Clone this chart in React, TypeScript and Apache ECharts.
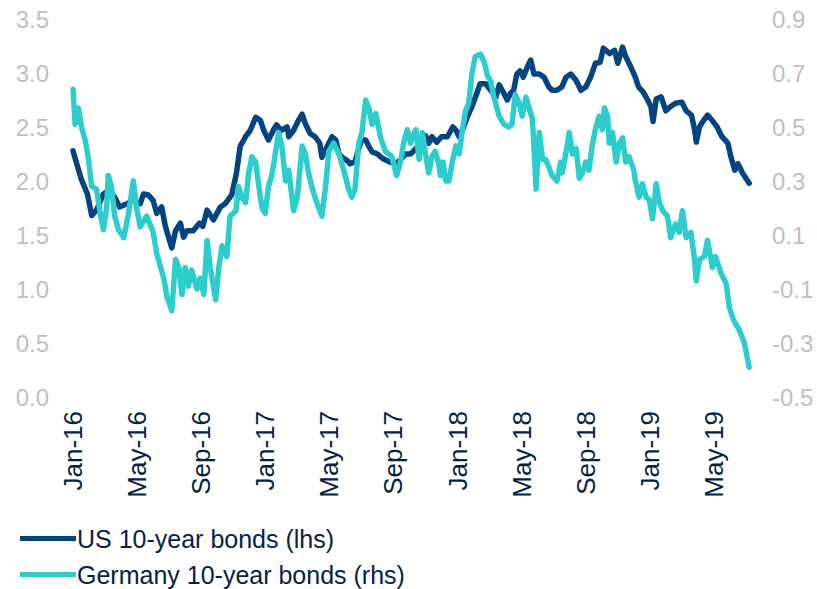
import React, { useEffect, useRef } from "react";
import * as echarts from "echarts";

const xTickLabels = ["Jan-16","May-16","Sep-16","Jan-17","May-17","Sep-17","Jan-18","May-18","Sep-18","Jan-19","May-19"];
const leftTicks = { min: 0, max: 3.5, step: 0.5 };
const rightTicks = { min: -0.5, max: 0.9, step: 0.2 };
const seriesNames = ["US 10-year bonds (lhs)", "Germany 10-year bonds (rhs)"];

const usDates = [
  "2016-01-01","2016-01-08","2016-01-17","2016-01-28","2016-02-06","2016-02-15","2016-02-28","2016-03-07","2016-03-19","2016-03-28",
  "2016-04-12","2016-04-24","2016-05-07","2016-05-13","2016-05-22","2016-06-01","2016-06-08","2016-06-17","2016-06-24","2016-07-06",
  "2016-07-13","2016-07-22","2016-07-28","2016-08-04","2016-08-16","2016-08-28","2016-09-04","2016-09-12","2016-09-24","2016-10-07",
  "2016-10-16","2016-10-28","2016-11-07","2016-11-14","2016-11-24","2016-12-03","2016-12-13","2016-12-22","2016-12-28","2017-01-07",
  "2017-01-16","2017-01-22","2017-02-01","2017-02-12","2017-02-15","2017-02-24","2017-03-03","2017-03-10","2017-03-16","2017-03-25",
  "2017-04-04","2017-04-13","2017-04-17","2017-04-27","2017-05-06","2017-05-13","2017-05-19","2017-05-25","2017-06-04","2017-06-10",
  "2017-06-19","2017-07-01","2017-07-09","2017-07-15","2017-07-21","2017-08-01","2017-08-10","2017-08-22","2017-09-04","2017-09-13",
  "2017-09-24","2017-10-03","2017-10-13","2017-10-25","2017-11-01","2017-11-07","2017-11-13","2017-11-22","2017-12-01","2017-12-12",
  "2017-12-22","2017-12-28","2018-01-04","2018-01-10","2018-01-19","2018-01-28","2018-02-07","2018-02-13","2018-02-24","2018-03-03",
  "2018-03-13","2018-03-19","2018-03-28","2018-04-04","2018-04-10","2018-04-16","2018-04-22","2018-04-28","2018-05-04","2018-05-12",
  "2018-05-18","2018-05-24","2018-06-04","2018-06-13","2018-06-22","2018-06-28","2018-07-07","2018-07-16","2018-07-24","2018-08-03",
  "2018-08-13","2018-08-22","2018-09-01","2018-09-10","2018-09-19","2018-09-28","2018-10-04","2018-10-16","2018-10-25","2018-11-01",
  "2018-11-10","2018-11-16","2018-11-25","2018-12-04","2018-12-10","2018-12-19","2018-12-27","2019-01-03","2019-01-07","2019-01-13",
  "2019-01-22","2019-02-01","2019-02-10","2019-02-19","2019-03-01","2019-03-09","2019-03-19","2019-03-25","2019-03-28","2019-04-04",
  "2019-04-10","2019-04-19","2019-04-28","2019-05-07","2019-05-16","2019-05-27","2019-06-03","2019-06-10","2019-06-16","2019-06-25",
  "2019-07-07"
];
const usYields = [
  2.28,2.16,2.01,1.88,1.68,1.73,1.88,1.91,1.85,1.76,
  1.79,1.82,1.79,1.88,1.87,1.82,1.70,1.76,1.58,1.38,
  1.54,1.61,1.48,1.54,1.54,1.61,1.58,1.73,1.64,1.76,
  1.79,1.87,2.07,2.32,2.41,2.47,2.59,2.56,2.47,2.38,
  2.47,2.52,2.47,2.50,2.41,2.47,2.56,2.62,2.53,2.44,
  2.41,2.35,2.22,2.32,2.41,2.38,2.25,2.22,2.19,2.16,
  2.18,2.38,2.38,2.32,2.27,2.25,2.21,2.18,2.16,2.19,
  2.25,2.25,2.30,2.38,2.42,2.35,2.41,2.36,2.41,2.41,
  2.50,2.47,2.41,2.47,2.59,2.69,2.81,2.90,2.90,2.84,
  2.78,2.89,2.81,2.75,2.81,2.84,2.99,3.02,2.96,3.06,
  3.12,2.99,2.99,2.96,2.87,2.84,2.84,2.87,2.96,2.99,
  2.93,2.84,2.87,2.96,3.09,3.10,3.23,3.18,3.21,3.09,
  3.24,3.15,3.06,2.96,2.87,2.82,2.75,2.69,2.55,2.76,
  2.78,2.65,2.69,2.72,2.73,2.65,2.61,2.47,2.36,2.50,
  2.55,2.61,2.56,2.50,2.41,2.35,2.22,2.10,2.16,2.07,
  1.98
];

const deDates = [
  "2016-01-01","2016-01-05","2016-01-11","2016-01-17","2016-01-24","2016-01-30","2016-02-06","2016-02-15","2016-02-22","2016-02-28",
  "2016-03-04","2016-03-07","2016-03-13","2016-03-19","2016-03-26","2016-04-06","2016-04-15","2016-04-24","2016-04-30","2016-05-07",
  "2016-05-19","2016-06-01","2016-06-08","2016-06-21","2016-06-27","2016-07-06","2016-07-13","2016-07-19","2016-07-25","2016-08-01",
  "2016-08-07","2016-08-13","2016-08-23","2016-08-29","2016-09-06","2016-09-12","2016-09-18","2016-09-28","2016-10-04","2016-10-10",
  "2016-10-19","2016-10-25","2016-11-01","2016-11-06","2016-11-11","2016-11-17","2016-11-24","2016-11-30","2016-12-06","2016-12-13",
  "2016-12-19","2016-12-25","2017-01-01","2017-01-07","2017-01-13","2017-01-19","2017-01-26","2017-02-02","2017-02-09","2017-02-15",
  "2017-02-24","2017-03-01","2017-03-10","2017-03-16","2017-03-22","2017-03-28","2017-04-04","2017-04-11","2017-04-17","2017-04-24",
  "2017-04-30","2017-05-09","2017-05-19","2017-05-28","2017-06-07","2017-06-13","2017-06-19","2017-06-26","2017-07-02","2017-07-09",
  "2017-07-15","2017-07-21","2017-07-28","2017-08-07","2017-08-16","2017-08-28","2017-09-07","2017-09-14","2017-09-21","2017-09-27",
  "2017-10-03","2017-10-06","2017-10-13","2017-10-19","2017-10-25","2017-11-01","2017-11-07","2017-11-13","2017-11-19","2017-11-25",
  "2017-11-29","2017-12-04","2017-12-09","2017-12-15","2017-12-21","2017-12-28","2018-01-04","2018-01-10","2018-01-16","2018-01-22",
  "2018-01-28","2018-02-04","2018-02-14","2018-02-21","2018-02-27","2018-03-03","2018-03-09","2018-03-19","2018-03-28","2018-04-07",
  "2018-04-13","2018-04-19","2018-04-26","2018-05-02","2018-05-09","2018-05-15","2018-05-21","2018-05-24","2018-05-28","2018-06-04",
  "2018-06-10","2018-06-16","2018-06-22","2018-06-28","2018-07-07","2018-07-14","2018-07-17","2018-07-27","2018-07-30","2018-08-06",
  "2018-08-13","2018-08-19","2018-08-25","2018-09-01","2018-09-07","2018-09-13","2018-09-19","2018-09-26","2018-10-02","2018-10-06",
  "2018-10-12","2018-10-15","2018-10-21","2018-10-28","2018-11-04","2018-11-10","2018-11-16","2018-11-22","2018-12-01","2018-12-04",
  "2018-12-11","2018-12-17","2018-12-24","2018-12-30","2019-01-06","2019-01-13","2019-01-19","2019-01-25","2019-02-04","2019-02-10",
  "2019-02-19","2019-02-26","2019-03-02","2019-03-09","2019-03-18","2019-03-24","2019-03-28","2019-04-04","2019-04-13","2019-04-19",
  "2019-04-28","2019-05-04","2019-05-14","2019-05-24","2019-05-30","2019-06-09","2019-06-18","2019-06-28","2019-07-07"
];
const deYields = [
  0.64,0.51,0.57,0.50,0.45,0.38,0.28,0.27,0.18,0.12,
  0.20,0.32,0.28,0.17,0.12,0.09,0.18,0.30,0.20,0.13,
  0.17,0.11,0.03,-0.06,-0.13,-0.18,0.01,-0.02,-0.12,-0.02,
  -0.09,-0.03,-0.10,-0.06,-0.12,0.08,-0.02,-0.14,-0.02,0.06,
  0.02,0.17,0.18,0.19,0.28,0.24,0.22,0.33,0.39,0.37,
  0.28,0.20,0.18,0.28,0.32,0.39,0.48,0.43,0.30,0.34,
  0.19,0.24,0.43,0.40,0.33,0.28,0.24,0.20,0.17,0.28,
  0.41,0.44,0.40,0.34,0.27,0.24,0.27,0.44,0.48,0.60,
  0.57,0.51,0.55,0.46,0.41,0.39,0.32,0.37,0.45,0.49,
  0.44,0.46,0.49,0.38,0.48,0.40,0.33,0.39,0.41,0.37,
  0.32,0.37,0.30,0.30,0.37,0.43,0.40,0.49,0.56,0.59,
  0.70,0.76,0.77,0.74,0.69,0.67,0.61,0.54,0.51,0.50,
  0.51,0.62,0.59,0.54,0.61,0.57,0.53,0.43,0.27,0.48,
  0.38,0.38,0.35,0.32,0.30,0.37,0.33,0.44,0.48,0.40,
  0.42,0.31,0.33,0.37,0.34,0.43,0.49,0.54,0.49,0.57,
  0.54,0.44,0.48,0.37,0.44,0.46,0.37,0.39,0.34,0.30,
  0.24,0.29,0.24,0.23,0.16,0.29,0.22,0.19,0.17,0.09,
  0.14,0.11,0.19,0.09,0.11,0.02,-0.07,0.01,0.02,0.08,
  -0.02,0.02,-0.04,-0.08,-0.17,-0.22,-0.25,-0.30,-0.39
];

const TEXT_DARK = "#072146";
const GREY = "#bfbfbf";
const FONT = "'Liberation Sans', Arial, sans-serif";

function monthsSinceStart(d: string): number {
  const [y, m, day] = d.split("-").map(Number);
  return (y - 2016) * 12 + (m - 1) + (day - 1) / 30;
}

export default function App() {
  const ref = useRef<HTMLDivElement>(null);
  useEffect(() => {
    if (!ref.current) return;
    const chart = echarts.init(ref.current, undefined, { renderer: "svg" });
    const usData = usDates.map((d, i) => [monthsSinceStart(d), usYields[i]]);
    const deData = deDates.map((d, i) => [monthsSinceStart(d), deYields[i]]);
    const legendBase = {
      orient: "horizontal",
      left: 20,
      padding: 0,
      itemWidth: 56,
      itemHeight: 5,
      icon: "rect",
      textStyle: { color: TEXT_DARK, fontSize: 25, lineHeight: 25, fontFamily: FONT, padding: [0, 0, 0, -4] },
    };
    chart.setOption({
      animation: false,
      backgroundColor: "#ffffff",
      textStyle: { fontFamily: FONT },
      grid: { left: 73, right: 55, top: 19, bottom: 192, containLabel: false },
      legend: [
        { ...legendBase, top: 526, data: [seriesNames[0]] },
        { ...legendBase, top: 562, data: [seriesNames[1]] },
      ],
      xAxis: {
        type: "value",
        min: 0,
        max: 43,
        interval: 4,
        axisLine: { show: false },
        axisTick: { show: false },
        splitLine: { show: false },
        axisLabel: {
          rotate: 90,
          margin: 14,
          fontSize: 26,
          color: TEXT_DARK,
          fontFamily: FONT,
          showMaxLabel: false,
          formatter: (v: number) => (Math.abs(v % 4) < 1e-6 ? xTickLabels[Math.round(v / 4)] ?? "" : ""),
        },
      },
      yAxis: [
        {
          type: "value",
          min: leftTicks.min,
          max: leftTicks.max,
          interval: leftTicks.step,
          axisLine: { show: false },
          axisTick: { show: false },
          splitLine: { show: false },
          axisLabel: {
            margin: 24,
            fontSize: 24,
            color: GREY,
            fontFamily: FONT,
            formatter: (v: number) => v.toFixed(1),
          },
        },
        {
          type: "value",
          min: rightTicks.min,
          max: rightTicks.max,
          interval: rightTicks.step,
          position: "right",
          axisLine: { show: false },
          axisTick: { show: false },
          splitLine: { show: false },
          axisLabel: {
            margin: 10,
            fontSize: 24,
            color: GREY,
            fontFamily: FONT,
            formatter: (v: number) => (Math.abs(v) < 1e-9 ? "0.0" : v.toFixed(1)),
          },
        },
      ],
      series: [
        {
          name: seriesNames[0],
          type: "line",
          yAxisIndex: 0,
          data: usData,
          symbol: "none",
          color: "#004481",
          lineStyle: { width: 5.5, color: "#004481", join: "round", cap: "round" },
        },
        {
          name: seriesNames[1],
          type: "line",
          yAxisIndex: 1,
          data: deData,
          symbol: "none",
          color: "#2DCCCD",
          lineStyle: { width: 5.5, color: "#2DCCCD", join: "round", cap: "round" },
        },
      ],
    });
    return () => chart.dispose();
  }, []);
  return (
    <div
      ref={ref}
      style={{ position: "fixed", left: 0, top: 0, width: 817, height: 589, background: "#fff" }}
    />
  );
}
